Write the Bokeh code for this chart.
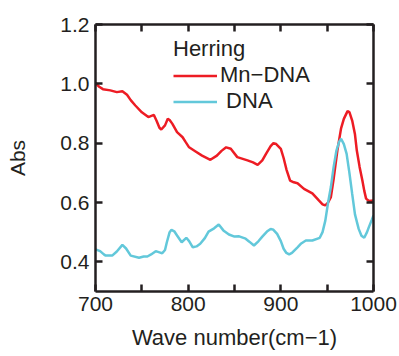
from bokeh.plotting import figure
from bokeh.models import (LinearAxis, FixedTicker, Legend, LegendItem, Range1d,
                          PrintfTickFormatter, CustomLabelingPolicy)
from bokeh.embed import file_html
from bokeh.resources import INLINE

# ---- data ----
mn_x = [700, 704, 708, 716, 723, 729, 734, 738, 743, 750, 757, 761, 763, 766, 769, 771,
        775, 778, 780, 783, 788, 794, 797, 801, 808, 815, 824, 831, 836, 841, 846, 853,
        864, 870, 875, 880, 884, 889, 892, 895, 900, 903, 906, 910, 914, 918, 925, 934,
        941, 945, 948, 951, 954, 957, 961, 965, 968, 972, 974, 977, 980, 982, 985, 988,
        990, 992, 995, 1000]
mn_y = [1.003, 0.99, 0.982, 0.978, 0.972, 0.975, 0.963, 0.945, 0.927, 0.904, 0.888, 0.893,
        0.895, 0.875, 0.852, 0.846, 0.86, 0.882, 0.878, 0.865, 0.837, 0.82, 0.805, 0.786,
        0.772, 0.758, 0.744, 0.758, 0.774, 0.786, 0.781, 0.753, 0.742, 0.735, 0.727, 0.742,
        0.764, 0.79, 0.8, 0.797, 0.781, 0.75, 0.712, 0.674, 0.668, 0.665, 0.646, 0.631,
        0.607, 0.594, 0.59, 0.6, 0.618, 0.68, 0.775, 0.85, 0.882, 0.908, 0.905, 0.876,
        0.83, 0.775, 0.72, 0.674, 0.64, 0.613, 0.605, 0.607]

dna_x = [700, 705, 709, 711, 718, 723, 729, 733, 738, 747, 752, 756, 760, 765, 769, 772,
         775, 777, 780, 782, 785, 788, 793, 798, 801, 805, 809, 813, 818, 822, 828, 833,
         838, 844, 850, 855, 862, 866, 871, 876, 880, 885, 889, 892, 896, 900, 903, 906,
         909, 912, 918, 922, 927, 934, 942, 945, 948, 951, 954, 957, 960, 963, 965, 968,
         971, 974, 977, 980, 984, 987, 990, 993, 995, 998, 1000]
dna_y = [0.442, 0.436, 0.425, 0.421, 0.421, 0.435, 0.457, 0.445, 0.421, 0.414, 0.418, 0.418,
         0.425, 0.436, 0.432, 0.429, 0.44, 0.466, 0.5, 0.508, 0.503, 0.489, 0.466, 0.481,
         0.47, 0.449, 0.452, 0.461, 0.48, 0.502, 0.513, 0.526, 0.506, 0.492, 0.485, 0.486,
         0.478, 0.468, 0.455, 0.47, 0.485, 0.502, 0.511, 0.508, 0.494, 0.47, 0.444, 0.43,
         0.425, 0.43, 0.449, 0.462, 0.472, 0.472, 0.481, 0.5, 0.539, 0.6, 0.652, 0.72,
         0.775, 0.805, 0.815, 0.797, 0.764, 0.7, 0.629, 0.56, 0.511, 0.488, 0.481, 0.5,
         0.517, 0.54, 0.556]

x_start, x_end = 700, 1000
y_start, y_end = 0.3, 1.2
x_major = [700, 800, 900, 1000]
x_minor = [750, 850, 950]
y_major = [0.4, 0.6, 0.8, 1.0, 1.2]

legend_title = "Herring"
label_mn = "Mn\u2212DNA"
label_dna = "\u00a0DNA"
x_label = "Wave number(cm\u22121)"
y_label = "Abs"

RED = "#ed1c24"
BLUE = "#62c8da"
INK = "#231f20"
FONT = "Liberation Sans"
TICK = 7

p = figure(width=399, height=356, output_backend="svg", toolbar_location=None,
           x_range=Range1d(x_start, x_end), y_range=Range1d(y_start, y_end),
           x_axis_location=None, y_axis_location=None,
           min_border_left=95, min_border_right=26, min_border_top=24, min_border_bottom=65)
p.grid.visible = False
p.outline_line_color = None
p.background_fill_color = "white"
p.border_fill_color = "white"

r_mn = p.line(mn_x, mn_y, line_color=RED, line_width=2.5)
r_dna = p.line(dna_x, dna_y, line_color=BLUE, line_width=2.5)

def style(ax, label_size="21px"):
    ax.axis_line_color = INK
    ax.axis_line_width = 2.5
    ax.major_tick_line_color = INK
    ax.major_tick_line_width = 2.5
    ax.minor_tick_line_color = INK
    ax.minor_tick_line_width = 2.5
    ax.major_tick_in = TICK
    ax.major_tick_out = 0
    ax.minor_tick_in = TICK
    ax.minor_tick_out = 0
    ax.major_label_text_font = FONT
    ax.major_label_text_color = INK
    ax.major_label_text_font_size = label_size
    ax.axis_label_text_font = FONT
    ax.axis_label_text_color = INK
    ax.axis_label_text_font_style = "normal"

x_ticker = FixedTicker(ticks=x_major, minor_ticks=x_minor)
y_ticker = FixedTicker(ticks=y_major, minor_ticks=[])

bottom = LinearAxis(ticker=x_ticker, axis_label=x_label)
style(bottom)
bottom.axis_label_text_font_size = "22px"
bottom.major_label_standoff = 5
bottom.axis_label_standoff = 11
p.add_layout(bottom, "below")

left = LinearAxis(ticker=y_ticker, axis_label=y_label,
                  formatter=PrintfTickFormatter(format="%.1f"))
style(left)
left.axis_label_text_font_size = "21px"
left.major_label_standoff = 6
left.axis_label_standoff = 28
p.add_layout(left, "left")

# mirrored axes on top and right: ticks only, no labels drawn
no_labels = "return new indices.constructor(indices.size)"
top = LinearAxis(ticker=x_ticker, major_label_policy=CustomLabelingPolicy(code=no_labels))
style(top, label_size="1px")
top.major_label_standoff = 0
p.add_layout(top, "above")

right = LinearAxis(ticker=y_ticker, major_label_policy=CustomLabelingPolicy(code=no_labels))
style(right, label_size="1px")
right.major_label_standoff = 0
p.add_layout(right, "right")

legend = Legend(items=[LegendItem(label=label_mn, renderers=[r_mn]),
                       LegendItem(label=label_dna, renderers=[r_dna])],
                title=legend_title, location=(78, 177))
legend.title_text_font = FONT
legend.title_text_font_size = "22px"
legend.title_text_font_style = "normal"
legend.title_text_color = INK
legend.title_standoff = 0
legend.label_text_font = FONT
legend.label_text_font_size = "22px"
legend.label_text_color = INK
legend.glyph_width = 44
legend.glyph_height = 25
legend.label_height = 25
legend.label_standoff = 3
legend.spacing = 0
legend.padding = 0
legend.margin = 0
legend.background_fill_alpha = 0
legend.border_line_color = None
p.add_layout(legend)

open("out.html", "w").write(file_html(p, INLINE))
